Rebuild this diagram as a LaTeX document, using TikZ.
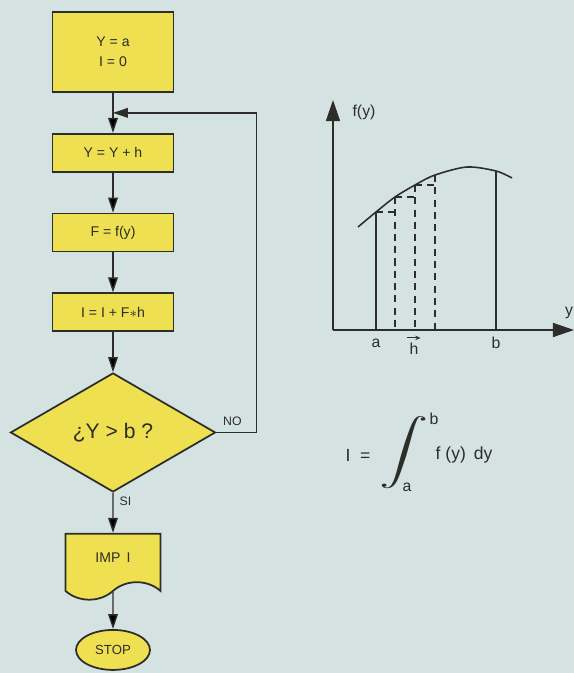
\documentclass[tikz,border=0pt]{standalone}
\usepackage{fontspec}
\usepackage{graphicx}
\setmainfont{Liberation Sans}
\usetikzlibrary{positioning,arrows.meta,shapes.geometric,shapes.symbols}

\definecolor{bgblue}{RGB}{212,227,225}
\definecolor{boxyellow}{RGB}{238,224,80}
\definecolor{ink}{RGB}{45,45,42}

\begin{document}
\begin{tikzpicture}[
  x=0.02cm, y=-0.02cm,
  >={Triangle[length=8.5pt,width=5.5pt]},
  node distance=0.8cm,
  every node/.style={text=ink, font=\fontsize{8}{9.6}\selectfont},
  box/.style={draw=ink, line width=1pt, fill=boxyellow, minimum width=2.42cm,
    minimum height=0.76cm, inner sep=1pt},
  decision/.style={diamond, draw=ink, line width=1pt, fill=boxyellow,
    minimum width=4.1cm, minimum height=2.38cm, inner sep=0pt,
    font=\fontsize{12}{14}\selectfont},
  doc/.style={tape, tape bend top=none, tape bend bottom=in and out,
    tape bend height=0.35cm, draw=ink, line width=1pt, fill=boxyellow,
    minimum width=1.9cm, minimum height=1.32cm},
  term/.style={ellipse, draw=ink, line width=1pt, fill=boxyellow,
    minimum width=1.48cm, minimum height=0.8cm, font=\fontsize{7.5}{9}\selectfont},
  flow/.style={->, draw=ink, line width=0.8pt},
  axisline/.style={-{Triangle[length=12pt,width=8pt]}, draw=ink, line width=0.8pt},
  small/.style={font=\fontsize{7}{8}\selectfont},
  label/.style={font=\fontsize{9}{11}\selectfont}
]
  \useasboundingbox (0,0) rectangle (574,673);
  \fill[bgblue] (0,0) rectangle (574,673);

  % flowchart
  \node[box, minimum height=1.6cm, align=center] (b1) at (113,52) {Y = a\\[2pt]I = 0};
  \node[box, below=of b1] (b2) {Y = Y + h};
  \node[box, below=of b2] (b3) {F = f(y)};
  \node[box, below=of b3] (b4) {I = I + F$\ast$h};
  \node[decision, below=of b4] (dec) {¿Y > b ?};
  \node[doc, below=of dec] (imp) {IMP\, I};
  \node[term, below=0.92cm of imp] (stop) {STOP};

  \path (b1.south) -- coordinate[pos=0.5] (join) (b2.north);

  \path[flow]
    (b1) edge (b2)
    (b2) edge (b3)
    (b3) edge (b4)
    (b4) edge (dec)
    (dec) edge node[right, small, pos=0.2] {SI} (imp)
    (imp) edge (stop);
  \draw[flow] (dec.east) -- node[above, small, pos=0.4] {NO} ++(40,0) |- (join);

  % graph of f(y)
  \coordinate (O) at (333,330);
  \draw[axisline] (O) -- (333,100);
  \draw[axisline] (O) -- (574,330);
  \node[label] (fy) at (364,112) {f(y)};
  \node[label] (ylab) at (569,313) {y};

  \draw[ink, line width=0.9pt] plot[smooth] coordinates
    {(358,227) (376,212) (395,197) (415,185) (435,175) (467,167) (496,171) (512,178)};
  \draw[ink, line width=0.7pt] (376,212) -- (376,330) (496,171) -- (496,330);
  \draw[ink, line width=0.7pt, dash pattern=on 4pt off 3pt]
    (376,212) -- (395,212) (395,197) -- (395,330)
    (395,197) -- (415,197) (415,185) -- (415,330)
    (415,185) -- (435,185) (435,175) -- (435,330);
  \node[label] (la) at (376,343) {a};
  \node[label] (lh) at (414,349) {h};
  \node[label] (lb) at (496,343) {b};
  \draw[-{Stealth[length=3pt,width=2.5pt]}, ink, line width=0.6pt]
    ([xshift=2.3pt,yshift=-0.5pt]lh.north west) -- ([xshift=-2.3pt,yshift=-0.5pt]lh.north east);

  % formula
  \node[font=\fontsize{10}{12}\selectfont] (eq) at (358,455) {I\ \ =};
  \node (intg) at (404,453) {\scalebox{2.8}[1.85]{$\displaystyle\int$}};
  \node[label] (ub) at (434,419) {b};
  \node[label] (lo) at (407,487) {a};
  \node[font=\fontsize{10}{12}\selectfont] (fydy) at (464,455) {f (y)\, dy};
\end{tikzpicture}
\end{document}
